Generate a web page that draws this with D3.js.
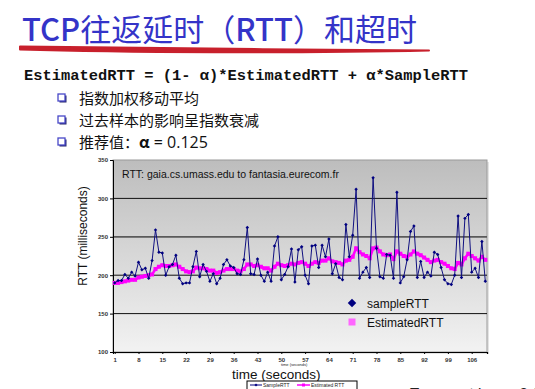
<!DOCTYPE html>
<html>
<head>
<meta charset="utf-8">
<script src="https://cdn.jsdelivr.net/npm/d3@7"></script>
<style>
  body { margin: 0; background: #fff; }
  svg { display: block; }
</style>
</head>
<body>
<div id="slide"></div>
<script>
// SampleRTT, one value per second (1..110)
const sampleRTT = [
  190, 193, 193, 201, 196, 204, 199, 217, 207, 209,
  196, 219, 259, 230, 229, 200, 211, 214, 226, 196,
  189, 190, 190, 211, 231, 198, 214, 205, 192, 202,
  189, 196, 214, 220, 212, 210, 202, 201, 220, 262,
  202, 201, 221, 200, 192, 204, 192, 238, 250, 194,
  201, 211, 234, 191, 233, 237, 200, 189, 238, 239,
  210, 239, 224, 247, 202, 215, 197, 194, 266, 224,
  252, 312, 196, 204, 210, 197, 327, 235, 198, 196,
  227, 226, 196, 308, 190, 198, 220, 257, 264, 197,
  218, 197, 204, 199, 230, 227, 210, 194, 189, 188,
  200, 277, 197, 274, 279, 204, 209, 197, 244, 192
];

const estimatedRTT = [
  190, 190, 191, 192, 193, 194, 194, 197, 198, 199,
  200, 201, 208, 211, 213, 212, 212, 213, 214, 211,
  208, 205, 204, 205, 210, 209, 209, 208, 206, 206,
  203, 204, 206, 208, 208, 208, 206, 205, 208, 214,
  214, 212, 213, 211, 209, 209, 206, 211, 215, 213,
  212, 213, 215, 214, 216, 217, 215, 212, 215, 217,
  216, 219, 219, 222, 218, 217, 216, 214, 219, 220,
  224, 235, 230, 227, 225, 222, 235, 236, 231, 227,
  226, 227, 221, 231, 228, 225, 224, 227, 231, 228,
  226, 223, 220, 217, 219, 220, 217, 215, 212, 209,
  208, 216, 214, 222, 228, 225, 222, 219, 224, 220
];

const xTickLabels = [1, 8, 15, 22, 29, 36, 43, 50, 57, 64, 71, 78, 85, 92, 99, 106];
const yTickLabels = [100, 150, 200, 250, 300, 350];
const bullets = ['指数加权移动平均', '过去样本的影响呈指数衰减'];

const W = 535, H = 389;
const svg = d3.select('#slide').append('svg')
    .attr('width', W)
    .attr('height', H);

const arial = 'Arial, "Liberation Sans", sans-serif';
const cjk = '"Noto Sans CJK SC", sans-serif';

// ---- slide header ----
const title = svg.append('text')
    .attr('x', 22)
    .attr('y', 41)
    .attr('font-family', '"Noto Sans CJK SC", "Noto Sans", sans-serif')
    .attr('font-size', 31)
    .attr('fill', '#3434c8');
title.append('tspan').attr('font-weight', 500).text('TCP');
title.append('tspan').text('往返延时（');
title.append('tspan').attr('font-weight', 500).text('RTT');
title.append('tspan').text('）和超时');

svg.append('path')
    .attr('d', 'M20,46.5 C120,48 300,49.5 429,50.5 C300,53.5 120,52.5 20,49.5 Z')
    .attr('fill', '#c8202c')
    .attr('stroke', '#c8202c')
    .attr('stroke-width', 2)
    .attr('stroke-linejoin', 'round');

svg.append('text')
    .attr('x', 24)
    .attr('y', 80)
    .attr('font-family', '"Liberation Mono", "DejaVu Sans Mono", monospace')
    .attr('font-weight', 'bold')
    .attr('font-size', 15.4)
    .attr('fill', '#111')
    .attr('textLength', 444)
    .text('EstimatedRTT = (1- α)*EstimatedRTT + α*SampleRTT');

const bulletY = [104, 126, 148];
bulletY.forEach(y => {
    svg.append('rect')
        .attr('x', 59.5).attr('y', y - 8.5)
        .attr('width', 7).attr('height', 7)
        .attr('fill', '#26266a');
    svg.append('rect')
        .attr('x', 58).attr('y', y - 10)
        .attr('width', 7).attr('height', 7)
        .attr('fill', '#fff')
        .attr('stroke', '#4848c8')
        .attr('stroke-width', 1.3);
});

bullets.forEach((t, i) => {
    svg.append('text')
        .attr('x', 79).attr('y', bulletY[i])
        .attr('font-family', cjk)
        .attr('font-size', 15)
        .attr('fill', '#111')
        .text(t);
});
const third = svg.append('text')
    .attr('x', 79).attr('y', bulletY[2])
    .attr('font-family', cjk)
    .attr('font-size', 15)
    .attr('fill', '#111');
third.append('tspan').text('推荐值：');
third.append('tspan').attr('font-weight', 'bold').attr('font-size', 16).text('α');
third.append('tspan').attr('font-family', '"Open Sans", sans-serif').attr('font-size', 16).text(' = 0.125');

// ---- chart ----
const plot = { left: 113, right: 487, top: 160, bottom: 352 };

const x = d3.scaleLinear()
    .domain([0.5, sampleRTT.length + 0.5])
    .range([plot.left, plot.right]);
const y = d3.scaleLinear()
    .domain([100, 350])
    .range([plot.bottom, plot.top]);

const defs = svg.append('defs');
const grad = defs.append('linearGradient')
    .attr('id', 'bg').attr('x1', 0).attr('y1', 0).attr('x2', 0).attr('y2', 1);
grad.append('stop').attr('offset', '0%').attr('stop-color', '#bdbdbd');
grad.append('stop').attr('offset', '100%').attr('stop-color', '#f2f2f2');

// faint shadow + frame
svg.append('rect')
    .attr('x', plot.left + 2).attr('y', plot.top + 2)
    .attr('width', plot.right - plot.left).attr('height', plot.bottom - plot.top)
    .attr('fill', '#e4e4e4');
svg.append('rect')
    .attr('x', plot.left).attr('y', plot.top)
    .attr('width', plot.right - plot.left).attr('height', plot.bottom - plot.top)
    .attr('fill', 'url(#bg)')
    .attr('stroke', '#9a9a9a')
    .attr('stroke-width', 1);

// gridlines
svg.append('g')
    .selectAll('line')
    .data(yTickLabels.filter(v => v > 100 && v < 350))
    .join('line')
    .attr('x1', plot.left).attr('x2', plot.right)
    .attr('y1', d => y(d)).attr('y2', d => y(d))
    .attr('stroke', d => d === 250 ? '#5a5a5a' : '#111')
    .attr('stroke-width', d => d === 250 ? 1.8 : 1);

// axes
const yAxis = svg.append('g')
    .attr('transform', `translate(${plot.left},0)`)
    .call(d3.axisLeft(y).tickValues(yTickLabels).tickSize(3).tickPadding(2));
yAxis.select('.domain').attr('stroke', '#000');
yAxis.selectAll('text')
    .attr('font-family', arial)
    .attr('font-size', 6)
    .attr('font-weight', 'bold')
    .attr('fill', '#333');

const xAxis = svg.append('g')
    .attr('transform', `translate(0,${plot.bottom})`)
    .call(d3.axisBottom(x).tickValues(xTickLabels).tickSize(2).tickPadding(4).tickFormat(d3.format('d')));
xAxis.select('.domain').attr('stroke', '#000').attr('stroke-width', 1.2);
xAxis.selectAll('text')
    .attr('font-family', arial)
    .attr('font-size', 6)
    .attr('font-weight', 'bold')
    .attr('fill', '#333');

// chart title inside plot
svg.append('text')
    .attr('x', 122).attr('y', 178)
    .attr('font-family', arial)
    .attr('font-size', 10.5)
    .attr('fill', '#111')
    .text('RTT: gaia.cs.umass.edu to fantasia.eurecom.fr');

// series
const line = d3.line().x((d, i) => x(i + 1)).y(d => y(d));
svg.append('path')
    .datum(estimatedRTT)
    .attr('d', line)
    .attr('fill', 'none')
    .attr('stroke', '#ff00ff')
    .attr('stroke-width', 2.6);
svg.append('g')
    .selectAll('rect')
    .data(estimatedRTT)
    .join('rect')
    .attr('x', (d, i) => x(i + 1) - 2)
    .attr('y', d => y(d) - 2)
    .attr('width', 4).attr('height', 4)
    .attr('fill', '#ff00ff');

svg.append('path')
    .datum(sampleRTT)
    .attr('d', line)
    .attr('fill', 'none')
    .attr('stroke', '#101080')
    .attr('stroke-width', 1);
const diamond = d3.symbol().type(d3.symbolSquare).size(6);
svg.append('g')
    .selectAll('path')
    .data(sampleRTT)
    .join('path')
    .attr('transform', (d, i) => `translate(${x(i + 1)},${y(d)}) rotate(45)`)
    .attr('d', diamond)
    .attr('fill', '#000080');

// legend inside plot
svg.append('path')
    .attr('transform', 'translate(352,303) rotate(45)')
    .attr('d', d3.symbol().type(d3.symbolSquare).size(36))
    .attr('fill', '#000080');
svg.append('rect')
    .attr('x', 348.5).attr('y', 318.5).attr('width', 7).attr('height', 7)
    .attr('fill', '#ff66ff');
svg.append('text')
    .attr('x', 367).attr('y', 308)
    .attr('font-family', arial)
    .attr('font-size', 12)
    .attr('fill', '#111')
    .text('sampleRTT');
svg.append('text')
    .attr('x', 367).attr('y', 327)
    .attr('font-family', arial)
    .attr('font-size', 12)
    .attr('fill', '#111')
    .text('EstimatedRTT');

// axis titles
svg.append('text')
    .attr('transform', 'translate(87,236) rotate(-90)')
    .attr('text-anchor', 'middle')
    .attr('font-family', arial)
    .attr('font-size', 12)
    .attr('fill', '#111')
    .text('RTT (milliseconds)');
svg.append('text')
    .attr('x', 281).attr('y', 366)
    .attr('font-family', arial)
    .attr('font-size', 4)
    .attr('fill', '#222')
    .text('time (seconds)');
svg.append('text')
    .attr('x', 232).attr('y', 379)
    .attr('font-family', arial)
    .attr('font-size', 13.5)
    .attr('fill', '#111')
    .text('time (seconds)');

// small legend box under the chart
const lg = svg.append('g').attr('transform', 'translate(247,381)');
lg.append('rect')
    .attr('x', 0).attr('y', 0).attr('width', 110).attr('height', 10)
    .attr('fill', '#fff').attr('stroke', '#000').attr('stroke-width', 1);
lg.append('line').attr('x1', 3).attr('x2', 15).attr('y1', 4).attr('y2', 4)
    .attr('stroke', '#000080').attr('stroke-width', 1);
lg.append('path').attr('transform', 'translate(9,4) rotate(45)')
    .attr('d', d3.symbol().type(d3.symbolSquare).size(5)).attr('fill', '#000080');
lg.append('line').attr('x1', 50).attr('x2', 63).attr('y1', 4).attr('y2', 4)
    .attr('stroke', '#ff00ff').attr('stroke-width', 1.5);
lg.append('rect').attr('x', 55).attr('y', 2.5).attr('width', 3).attr('height', 3).attr('fill', '#ff00ff');
[['SampleRTT', 16], ['Estimated RTT', 64]].forEach(([t, px]) => {
    lg.append('text')
        .attr('x', px).attr('y', 6)
        .attr('font-family', arial)
        .attr('font-size', 5)
        .attr('fill', '#222')
        .text(t);
});

// footer, cut off by the bottom edge as in the reference
svg.append('text')
    .attr('x', 410).attr('y', 398)
    .attr('font-family', arial)
    .attr('font-size', 15)
    .attr('fill', '#222')
    .text('Transport Layer  3-34');
</script>
</body>
</html>
